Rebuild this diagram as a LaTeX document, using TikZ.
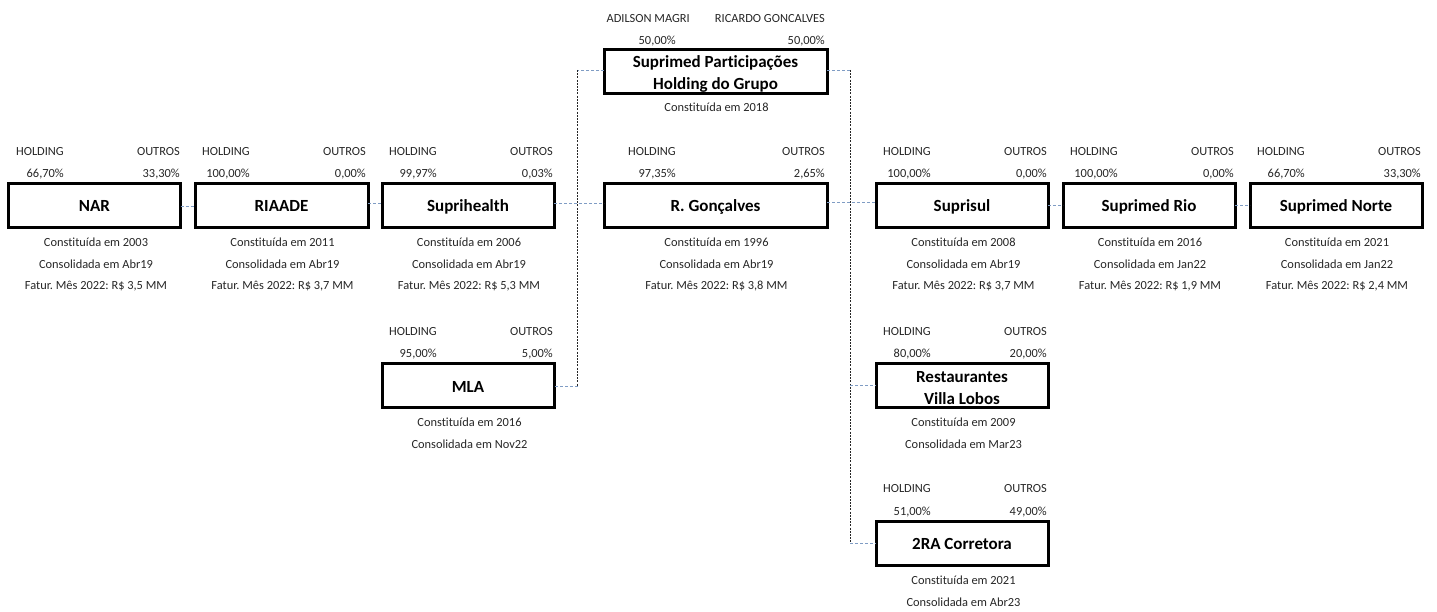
\documentclass[tikz,border=0pt]{standalone}
\usepackage{fontspec}
\setmainfont[Ligatures=NoCommon]{Carlito}
\definecolor{inktext}{HTML}{262626}
\definecolor{linkblue}{HTML}{7F9CC4}
\tikzset{
  cbox/.style={draw=black,line width=3pt,fill=white,inner sep=0pt,outer sep=0pt,
    font=\fontsize{17}{22}\selectfont\bfseries,text=black},
  small/.style={font=\fontsize{12.4}{14}\selectfont\frenchspacing,text=inktext,inner sep=0pt},
  smallr/.style={small,anchor=east},
  smallc/.style={small,anchor=center},
  bluelink/.style={draw=linkblue,line width=0.9pt,dash pattern=on 3pt off 2pt},
  dotlink/.style={draw=black!85,line width=1pt,dash pattern=on 2pt off 1.2pt},
}
% [text drop], name, centre x, width, centre y, box text
\newcommand{\cbx}[6][6pt]{\node[cbox,minimum width=#4pt,minimum height=44pt] (#2) at (#3,#5)
  {\raisebox{-#1}[0pt][0pt]{\begin{tabular}{@{}c@{}}#6\end{tabular}}};}
% name, x of right edge of left column, x of right edge of right column, y1, y2, 4 texts
\newcommand{\hdr}[9]{%
  \node[smallr] (#1-a) at (#2,#4+0.7) {#6};
  \node[smallr] (#1-b) at (#3,#4+0.7) {#7};
  \node[smallr] (#1-c) at (#2,#5+0.7) {#8};
  \node[smallr] (#1-d) at (#3,#5+0.7) {#9};}
\newcommand{\capt}[4]{\node[smallc] (#1) at (#2,#3) {#4};}
\begin{document}
\begin{tikzpicture}[x=1pt,y=-1pt]
\useasboundingbox (0,0) rectangle (1437,612);
% junctions
\coordinate (jl) at (577.5,70);
\coordinate (jr) at (850,70);
\coordinate (jlm) at (577.5,386);
\coordinate (jrb) at (850,543);
% boxes
\cbx{nar}{94.5}{172}{205.5}{NAR}
\cbx{riaade}{281.5}{173}{205.5}{RIAADE}
\cbx{suprih}{468}{172}{205.5}{Suprihealth}
\cbx{rgon}{715.5}{223}{205.5}{R. Gonçalves}
\cbx{suprisul}{962}{172}{205.5}{Suprisul}
\cbx{rio}{1149}{172}{205.5}{Suprimed Rio}
\cbx{norte}{1336}{172}{205.5}{Suprimed Norte}
\cbx[7pt]{mla}{468}{172}{385.5}{MLA}
\cbx{part}{715.5}{223}{72}{Suprimed Participações\\Holding do Grupo}
\cbx[7.5pt]{rest}{962}{172}{385.5}{Restaurantes\\Villa Lobos}
\cbx[6.5pt]{corr}{962}{172}{543}{2RA Corretora}
% connectors
\draw[bluelink] (nar.east |- 0,206) -- (riaade.west |- 0,206);
\draw[bluelink] (riaade.east |- 0,203) -- (suprih.west |- 0,203);
\draw[bluelink] (suprih.east |- 0,203) -- (rgon.west |- 0,203);
\draw[bluelink] (rgon.east |- 0,202.5) -- (suprisul.west |- 0,202.5);
\draw[bluelink] (suprisul.east |- 0,205) -- (rio.west |- 0,205);
\draw[bluelink] (rio.east |- 0,205) -- (norte.west |- 0,205);
\draw[bluelink] (part.west |- jl) -- (jl);
\draw[bluelink] (part.east |- jr) -- (jr);
\draw[dotlink] (jl) -- (jlm);
\draw[dotlink] (jr) -- (jrb);
\draw[bluelink] (jlm) -- (mla.east |- jlm);
\draw[bluelink] (jr |- rest) -- (rest.west);
\draw[bluelink] (jrb) -- (corr.west);
% headers
\hdr{h1}{64}{180}{151}{173}{HOLDING}{OUTROS}{66,70\%}{33,30\%}
\hdr{h2}{250}{366}{151}{173}{HOLDING}{OUTROS}{100,00\%}{0,00\%}
\hdr{h3}{437}{553}{151}{173}{HOLDING}{OUTROS}{99,97\%}{0,03\%}
\hdr{h4}{676}{825}{151}{173}{HOLDING}{OUTROS}{97,35\%}{2,65\%}
\hdr{h5}{931}{1047}{151}{173}{HOLDING}{OUTROS}{100,00\%}{0,00\%}
\hdr{h6}{1118}{1234}{151}{173}{HOLDING}{OUTROS}{100,00\%}{0,00\%}
\hdr{h7}{1305}{1421}{151}{173}{HOLDING}{OUTROS}{66,70\%}{33,30\%}
\hdr{h8}{437}{553}{331}{353}{HOLDING}{OUTROS}{95,00\%}{5,00\%}
\hdr{h9}{931}{1047}{331}{353}{HOLDING}{OUTROS}{80,00\%}{20,00\%}
\hdr{h10}{931}{1047}{488}{511}{HOLDING}{OUTROS}{51,00\%}{49,00\%}
\node[smallr] (hp-a) at (690,18.7) {ADILSON MAGRI};
\node[smallr] (hp-b) at (825,18.7) {RICARDO GONCALVES};
\node[smallr] (hp-c) at (676,40.7) {50,00\%};
\node[smallr] (hp-d) at (825,40.7) {50,00\%};
% captions
\capt{c1a}{96}{242}{Constituída em 2003}
\capt{c1b}{96}{264}{Consolidada em Abr19}
\capt{c1c}{96}{286.5}{Fatur. Mês 2022: R\$ 3,5 MM}
\capt{c2a}{282.5}{242}{Constituída em 2011}
\capt{c2b}{282.5}{264}{Consolidada em Abr19}
\capt{c2c}{282.5}{286.5}{Fatur. Mês 2022: R\$ 3,7 MM}
\capt{c3a}{469}{242}{Constituída em 2006}
\capt{c3b}{469}{264}{Consolidada em Abr19}
\capt{c3c}{469}{286.5}{Fatur. Mês 2022: R\$ 5,3 MM}
\capt{c4a}{716.5}{242}{Constituída em 1996}
\capt{c4b}{716.5}{264}{Consolidada em Abr19}
\capt{c4c}{716.5}{286.5}{Fatur. Mês 2022: R\$ 3,8 MM}
\capt{c5a}{963.5}{242}{Constituída em 2008}
\capt{c5b}{963.5}{264}{Consolidada em Abr19}
\capt{c5c}{963.5}{286.5}{Fatur. Mês 2022: R\$ 3,7 MM}
\capt{c6a}{1150}{242}{Constituída em 2016}
\capt{c6b}{1150}{264}{Consolidada em Jan22}
\capt{c6c}{1150}{286.5}{Fatur. Mês 2022: R\$ 1,9 MM}
\capt{c7a}{1337}{242}{Constituída em 2021}
\capt{c7b}{1337}{264}{Consolidada em Jan22}
\capt{c7c}{1337}{286.5}{Fatur. Mês 2022: R\$ 2,4 MM}
\capt{c8a}{469.5}{422}{Constituída em 2016}
\capt{c8b}{469.5}{444}{Consolidada em Nov22}
\capt{c9a}{963.5}{422}{Constituída em 2009}
\capt{c9b}{963.5}{444}{Consolidada em Mar23}
\capt{c10a}{963.5}{580}{Constituída em 2021}
\capt{c10b}{963.5}{602}{Consolidada em Abr23}
\capt{cpa}{716.5}{107}{Constituída em 2018}
\end{tikzpicture}
\end{document}
